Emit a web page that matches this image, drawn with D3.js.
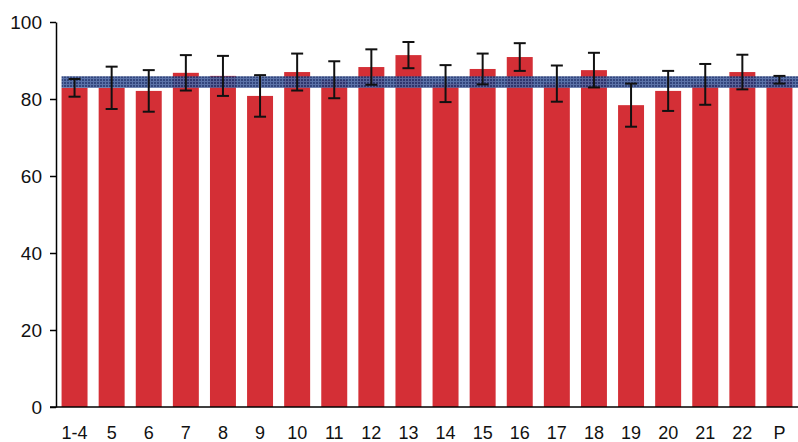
<!DOCTYPE html>
<html><head><meta charset="utf-8">
<script src="https://cdn.jsdelivr.net/npm/d3@7"></script>
<style>html,body{margin:0;padding:0;background:#fff;}svg{display:block;}</style>
</head><body>
<svg id="chart" width="798" height="442"></svg>
<script>
const categories = ["1-4","5","6","7","8","9","10","11","12","13","14","15","16","17","18","19","20","21","22","P"];
const values     = [82.9, 82.9, 82.1, 86.8, 86.0, 80.8, 87.0, 85.0, 88.3, 91.4, 84.0, 87.8, 90.9, 84.0, 87.5, 78.4, 82.1, 83.8, 87.0, 85.0];
const errors     = [2.3, 5.5, 5.4, 4.6, 5.2, 5.4, 4.8, 4.8, 4.6, 3.4, 4.8, 4.0, 3.6, 4.7, 4.5, 5.6, 5.2, 5.3, 4.5, 1.0];
const bandMean = 84.4;
const bandHalf = 1.5;
const yTicks = [0, 20, 40, 60, 80, 100];

const svg = d3.select("#chart");
const x = d3.scaleBand().domain(categories).range([56, 798]).paddingInner(0.3).paddingOuter(0.15);
const y = d3.scaleLinear().domain([0, 100]).range([407, 22]);

const defs = svg.append("defs");
const pat = defs.append("pattern").attr("id","grid").attr("patternUnits","userSpaceOnUse")
  .attr("width",3).attr("height",3);
pat.append("rect").attr("width",3).attr("height",3).attr("fill","#213672");
pat.append("rect").attr("x",0).attr("y",0).attr("width",3).attr("height",1).attr("fill","#4d66a0");
pat.append("rect").attr("x",0).attr("y",0).attr("width",1).attr("height",3).attr("fill","#4d66a0");

// bars
svg.append("g").selectAll("rect").data(categories).join("rect")
  .attr("x", d => x(d)).attr("width", x.bandwidth())
  .attr("y", (d,i) => y(values[i])).attr("height", (d,i) => y(0) - y(values[i]))
  .attr("fill", "#d42f36");

// band
svg.append("rect")
  .attr("x", x(categories[0])).attr("width", 798 - x(categories[0]))
  .attr("y", y(bandMean + bandHalf)).attr("height", y(bandMean - bandHalf) - y(bandMean + bandHalf))
  .attr("fill", "url(#grid)").attr("opacity", 0.92);

// error bars
const eg = svg.append("g").attr("stroke", "#111").attr("stroke-width", 2);
categories.forEach((c, i) => {
  const cx = x(c) + x.bandwidth() / 2;
  const top = y(values[i] + errors[i]), bot = y(values[i] - errors[i]);
  eg.append("line").attr("x1", cx).attr("x2", cx).attr("y1", top).attr("y2", bot);
  eg.append("line").attr("x1", cx - 6).attr("x2", cx + 6).attr("y1", top).attr("y2", top);
  eg.append("line").attr("x1", cx - 6).attr("x2", cx + 6).attr("y1", bot).attr("y2", bot);
});

// y axis
const yAxis = svg.append("g").attr("transform", "translate(56,0)")
  .call(d3.axisLeft(y).tickValues(yTicks).tickSize(6).tickPadding(8).tickSizeOuter(0));
yAxis.select(".domain").attr("stroke", "#000").attr("stroke-width", 1.5);
yAxis.selectAll(".tick line").attr("stroke", "#000").attr("stroke-width", 1.5);
yAxis.selectAll("text").attr("font-family", "Liberation Sans, Arial, sans-serif").attr("font-size", 19).attr("fill", "#111");

// x axis
const xAxis = svg.append("g").attr("transform", "translate(0,407)")
  .call(d3.axisBottom(x).tickSize(0).tickPadding(19).tickSizeOuter(0));
xAxis.select(".domain").attr("stroke", "#000").attr("stroke-width", 1.5).attr("d", "M50,0H798");
xAxis.selectAll("text").attr("font-family", "Liberation Sans, Arial, sans-serif").attr("font-size", 18).attr("fill", "#111");
</script>
</body></html>
